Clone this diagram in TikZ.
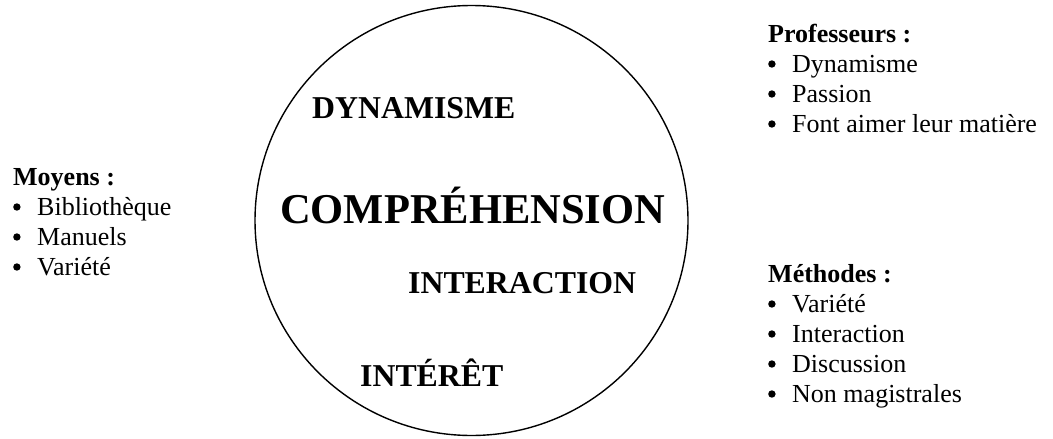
\documentclass[tikz,border=0pt]{standalone}
\usepackage{fontspec}
\setmainfont{Liberation Serif}
\usetikzlibrary{shapes.geometric}
\begin{document}
\begin{tikzpicture}[x=1pt,y=-1pt,
  head/.style={anchor=base west, inner sep=0pt, font=\fontsize{26}{30}\selectfont\bfseries},
  item/.style={anchor=base west, inner sep=0pt, font=\fontsize{26}{30}\selectfont},
  word/.style={anchor=base west, inner sep=0pt, font=\fontsize{31.8}{36}\selectfont\bfseries},
  mainword/.style={anchor=base west, inner sep=0pt, font=\fontsize{42.5}{50}\selectfont\bfseries},
  ring/.style={draw=black, line width=1.4pt}]
\useasboundingbox (0,0) rectangle (1053,439);
\newcommand{\bul}[1]{\makebox[24pt][l]{\tikz[baseline=0pt]\fill[black] (3.7pt,8pt) circle (3.7pt);}#1}
% circle
\node[ring, ellipse, minimum width=433pt, minimum height=430pt, inner sep=0pt] (circ) at (471.5,220.5) {};
% words in circle
\node[word] (dyn) at (312,118) {DYNAMISME};
\node[mainword] (comp) at (280,223) {COMPRÉHENSION};
\node[word] (inter) at (408,293) {INTERACTION};
\node[word] (int) at (360,386) {INTÉRÊT};
% left list
\node[head] (moy) at (13,185) {Moyens :};
\node[item] (m1) at (13,215) {\bul{Bibliothèque}};
\node[item] (m2) at (13,245) {\bul{Manuels}};
\node[item] (m3) at (13,275) {\bul{Variété}};
% right top list
\node[head] (prof) at (768,42) {Professeurs :};
\node[item] (p1) at (768,72) {\bul{Dynamisme}};
\node[item] (p2) at (768,102) {\bul{Passion}};
\node[item] (p3) at (768,132) {\bul{Font aimer leur matière}};
% right bottom list
\node[head] (meth) at (768,282) {Méthodes :};
\node[item] (t1) at (768,312) {\bul{Variété}};
\node[item] (t2) at (768,342) {\bul{Interaction}};
\node[item] (t3) at (768,372) {\bul{Discussion}};
\node[item] (t4) at (768,402) {\bul{Non magistrales}};
\end{tikzpicture}
\end{document}
